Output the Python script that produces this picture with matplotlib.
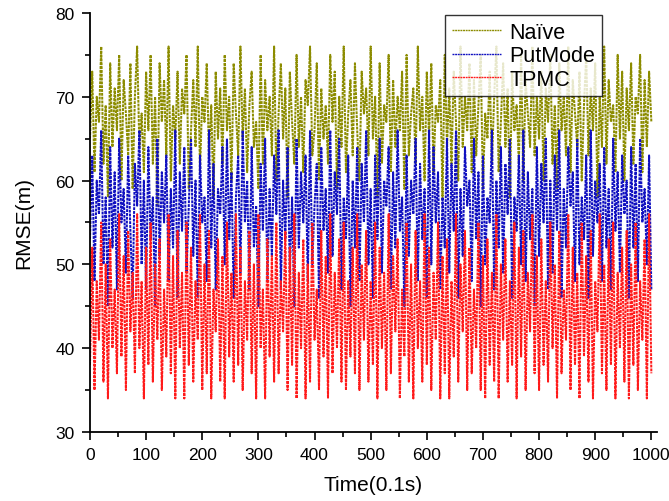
import matplotlib
matplotlib.use("Agg")
import matplotlib.pyplot as plt
from matplotlib.ticker import MultipleLocator
import numpy as np

time_step = 4  # sample spacing in units of 0.1 s

naive = [
65,73,61,70,67,76,62,69,58,74,64,71,66,75,60,72,68,63,74,59,
70,76,64,68,61,73,66,75,62,70,57,74,67,72,63,76,60,69,65,73,
62,71,68,75,59,66,72,64,76,61,70,67,74,63,69,58,73,65,71,62,
75,66,70,60,74,68,63,76,65,71,61,69,73,64,67,59,75,62,72,66,
70,63,76,60,68,74,65,71,58,73,67,62,75,64,70,61,72,69,76,63,
66,74,60,71,65,69,62,75,67,73,59,70,64,76,61,68,72,63,74,66,
60,73,68,71,63,76,65,70,58,74,62,69,67,75,61,72,64,70,66,73,
59,75,63,68,71,62,76,66,70,60,73,65,74,61,69,67,72,58,75,64,
71,62,73,67,60,76,64,70,66,74,61,72,63,69,75,59,68,65,73,62,
70,76,61,67,74,64,71,58,73,66,69,62,75,60,72,68,64,76,63,70,
65,73,60,71,67,75,62,69,59,74,66,70,63,76,61,72,68,64,73,60,
69,75,63,71,66,74,58,70,64,76,62,72,67,69,61,75,65,73,60,71,
66,74,62,70,68,75,61,72,64,73,67]

putmode = [
53,63,48,60,56,66,50,58,45,64,52,61,47,65,55,59,49,63,54,46,
62,57,66,50,60,47,64,53,58,45,65,51,61,55,63,48,59,52,66,46,
61,54,64,49,57,65,51,60,46,63,55,58,48,66,52,62,47,59,56,64,
50,65,53,61,46,58,63,49,66,55,60,47,64,52,57,45,62,54,65,48,
59,51,63,56,66,47,60,53,64,49,58,45,65,52,61,55,63,48,66,50,
57,62,46,64,54,59,49,66,51,61,56,65,47,58,53,63,45,60,52,64,
48,62,55,66,50,59,46,63,53,65,49,60,57,64,47,61,52,66,54,58,
45,63,51,60,56,65,48,62,53,59,46,66,50,64,55,61,47,58,52,65,
49,62,54,66,46,59,51,64,57,60,48,65,53,61,45,63,50,58,55,66,
47,60,52,64,49,62,56,65,46,58,54,63,50,66,48,61,53,59,45,64,
51,62,55,65,47,60,49,63,54,66,46,59,52,64,57,61,48,65,50,58,
53,63,46,66,51,60,55,62,48,64,52,59,47,65,54,61,49,63,56,60,
46,64,52,62,48,65,55,59,50,63,47]

tpmc = [
38,52,35,48,41,55,36,50,34,53,40,47,37,56,39,51,35,54,42,49,
37,56,40,48,34,52,38,55,36,50,41,53,35,47,39,56,37,51,34,54,
40,49,34,55,38,52,36,48,41,56,35,50,37,54,34,47,42,53,36,51,
34,55,39,49,36,56,38,52,35,48,41,54,37,50,34,56,40,47,34,53,
39,51,36,55,37,48,42,54,35,52,38,56,34,49,40,53,34,50,36,55,
41,47,35,54,39,51,34,56,37,49,40,53,36,55,35,48,39,52,37,56,
35,50,41,54,36,48,38,55,34,52,40,49,35,56,37,51,42,53,34,47,
39,55,36,50,34,54,40,48,36,56,38,52,35,49,41,55,34,51,37,53,
34,48,39,56,36,50,42,54,35,52,37,47,40,55,35,51,34,53,38,49,
36,56,34,50,41,53,36,48,38,55,34,52,39,54,35,49,42,56,37,51,
35,53,38,48,36,55,40,50,34,54,37,47,41,56,35,52,38,49,34,55,
39,51,36,54,34,48,42,56,37,50,35,53,38,55,34,49,40,52,36,54,
34,50,38,55,35,48,41,53,34,56,37]

labels = ["Naïve", "PutMode", "TPMC"]
colors = ["#8c8c00", "#1010c0", "#ff1a1a"]

plt.rcParams['font.family'] = ['Liberation Sans', 'DejaVu Sans']

fig = plt.figure(figsize=(6.69, 5.02), dpi=100)
ax = fig.add_axes([0.1345, 0.1375, 0.8475, 0.8347])

for series, lab, col in zip([naive, putmode, tpmc], labels, colors):
    t = np.arange(len(series)) * time_step
    ax.plot(t, series, color=col, lw=1.45, linestyle=(0, (1.4, 0.5)), label=lab)

ax.set_xlim(0, 1010)
ax.set_ylim(30, 80)
ax.xaxis.set_major_locator(MultipleLocator(100))
ax.xaxis.set_minor_locator(MultipleLocator(50))
ax.yaxis.set_major_locator(MultipleLocator(10))
ax.yaxis.set_minor_locator(MultipleLocator(5))
ax.tick_params(which='both', direction='out', width=1.2, labelsize=12.5)
ax.tick_params(which='major', length=6, pad=5)
ax.tick_params(which='minor', length=3.5)
for s in ['top', 'right']:
    ax.spines[s].set_visible(False)
for s in ['left', 'bottom']:
    ax.spines[s].set_linewidth(1.3)

ax.set_xlabel("Time(0.1s)", fontsize=15, labelpad=9)
ax.set_ylabel("RMSE(m)", fontsize=15, labelpad=16)

leg = ax.legend(loc='upper right', bbox_to_anchor=(0.903, 0.995), borderaxespad=0,
                fontsize=15.5, frameon=True, fancybox=False, edgecolor='black',
                handlelength=2.3, handletextpad=0.4, labelspacing=0.12, borderpad=0.3)
leg.get_frame().set_linewidth(1.0)
for h in leg.get_lines():
    h.set_linewidth(1.0)

fig.savefig("out.png", dpi=100)
